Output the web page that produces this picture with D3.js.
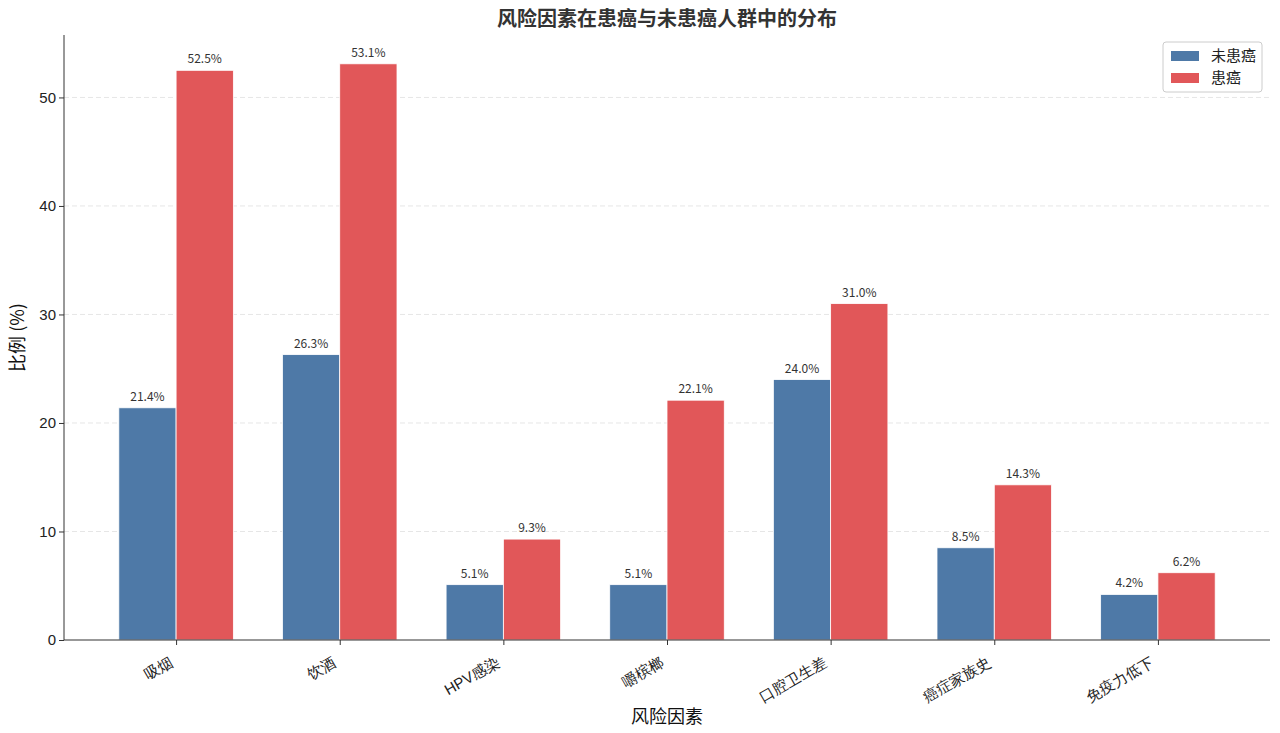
<!DOCTYPE html>
<html>
<head>
<meta charset="utf-8">
<script src="https://cdn.jsdelivr.net/npm/d3@7"></script>
<style>
  body { margin: 0; background: #fff; }
  svg { font-family: "Noto Sans CJK SC", "Noto Sans", sans-serif; }
  .grid line { stroke: #e6e6e6; stroke-dasharray: 5,3; }
  .axis text { font-size: 15px; fill: #222; }
  .axis path, .axis line { stroke: #333; }
</style>
</head>
<body>
<svg id="root" width="1280" height="733"></svg>
<script>
//Chart data
const categories = ["吸烟", "饮酒", "HPV感染", "嚼槟榔", "口腔卫生差", "癌症家族史", "免疫力低下"];
const seriesNames = ["未患癌", "患癌"];
const noCancer = [21.4, 26.3, 5.1, 5.1, 24.0, 8.5, 4.2];
const cancer = [52.5, 53.1, 9.3, 22.1, 31.0, 14.3, 6.2];
const yTicks = [0, 10, 20, 30, 40, 50];
const colors = ["#4e79a7", "#e15759"];

const svg = d3.select("#root");
const margin = { left: 64, right: 10, top: 35, bottom: 93 };
const width = 1280 - margin.left - margin.right;
const height = 733 - margin.top - margin.bottom;
const barWidth = 0.35;

//Linear x scale like matplotlib (category index as number)
const x = d3.scaleLinear()
    .domain([-0.685, categories.length - 1 + 0.685])
    .range([0, width]);
const yMax = d3.max(cancer.concat(noCancer)) * 1.05;
const y = d3.scaleLinear().domain([0, yMax]).range([height, 0]);

const g = svg.append("g").attr("transform", `translate(${margin.left}, ${margin.top})`);

//Grid
g.append("g")
    .attr("class", "grid")
    .selectAll("line")
    .data(yTicks.filter(d => d > 0))
    .enter()
    .append("line")
    .attr("x1", 0)
    .attr("x2", width)
    .attr("y1", d => y(d))
    .attr("y2", d => y(d));

//Bars
const series = [noCancer, cancer];
series.forEach((values, s) => {
    const offset = s === 0 ? -barWidth / 2 : barWidth / 2;
    const group = g.append("g");
    group.selectAll("rect")
        .data(values)
        .enter()
        .append("rect")
        .attr("x", (d, i) => x(i + offset - barWidth / 2))
        .attr("width", x(barWidth) - x(0))
        .attr("y", d => y(d))
        .attr("height", d => height - y(d))
        .attr("fill", colors[s])
        .attr("stroke", "#fff")
        .attr("stroke-width", 0.8);
    group.selectAll("text")
        .data(values)
        .enter()
        .append("text")
        .attr("x", (d, i) => x(i + offset))
        .attr("y", d => y(d) - 7)
        .attr("text-anchor", "middle")
        .style("font-size", "12px")
        .style("fill", "#333")
        .text(d => d.toFixed(1) + "%");
});

//Axes
const xAxis = g.append("g")
    .attr("class", "axis")
    .attr("transform", `translate(0, ${height})`)
    .call(d3.axisBottom(x).tickValues(d3.range(categories.length)).tickFormat(i => categories[i]).tickSizeOuter(0).tickSize(5));
xAxis.selectAll("text")
    .attr("text-anchor", "end")
    .attr("x", 0)
    .attr("y", 0)
    .attr("dy", 0)
    .attr("transform", "translate(-3, 25) rotate(-30)");
xAxis.select(".domain").attr("d", `M0,0H${width}`).attr("stroke-width", 1.2);

const yAxis = g.append("g")
    .attr("class", "axis")
    .call(d3.axisLeft(y).tickValues(yTicks).tickSizeOuter(0).tickSize(5));
yAxis.select(".domain").attr("d", `M0,${height}V0`);

//Axis labels and title
svg.append("text")
    .attr("x", margin.left + width / 2)
    .attr("y", 723)
    .attr("text-anchor", "middle")
    .style("font-size", "18px")
    .style("fill", "#111")
    .text("风险因素");

svg.append("text")
    .attr("transform", `translate(24, ${margin.top + height / 2}) rotate(-90)`)
    .attr("text-anchor", "middle")
    .style("font-size", "18px")
    .style("fill", "#111")
    .text("比例 (%)");

svg.append("text")
    .attr("x", margin.left + width / 2)
    .attr("y", 26)
    .attr("text-anchor", "middle")
    .style("font-size", "20px")
    .style("font-weight", "bold")
    .style("fill", "#333")
    .text("风险因素在患癌与未患癌人群中的分布");

//Legend
const legend = svg.append("g").attr("transform", "translate(1163, 42)");
legend.append("rect")
    .attr("width", 99)
    .attr("height", 50)
    .attr("rx", 3)
    .attr("fill", "#fff")
    .attr("stroke", "#ccc");
const item = legend.selectAll("g")
    .data(seriesNames)
    .enter()
    .append("g")
    .attr("transform", (d, i) => `translate(8, ${9 + i * 22})`);
item.append("rect")
    .attr("width", 28)
    .attr("height", 10)
    .attr("fill", (d, i) => colors[i]);
item.append("text")
    .attr("x", 40)
    .attr("y", 10)
    .style("font-size", "15px")
    .style("fill", "#222")
    .text(d => d);
</script>
</body>
</html>
